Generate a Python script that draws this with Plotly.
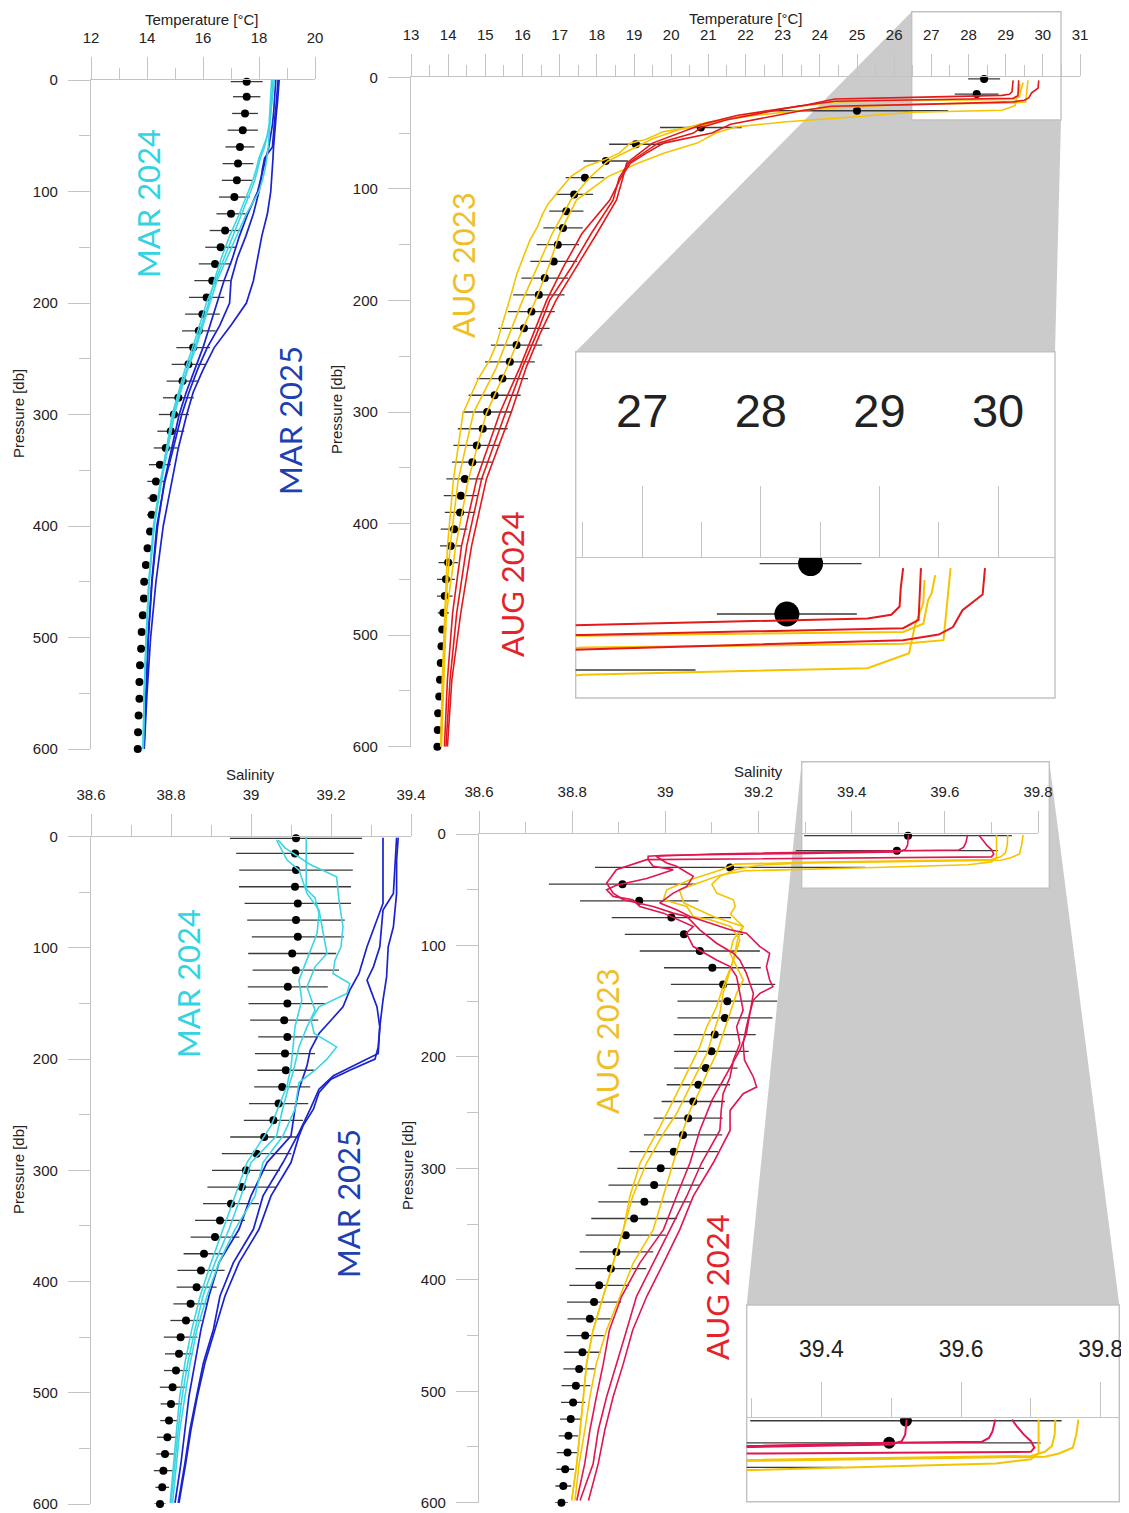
import plotly.graph_objects as go

W, H = 1129, 1513
OFF = 8  # the page body margin shifts the figure by 8 px

# ======================= DATA =======================
# climatology standard levels (dbar)
P_CLIM = [1.5, 15, 30, 45, 60, 75, 90, 105, 120, 135, 150, 165, 180, 195, 210, 225, 240, 255, 270, 285,
          300, 315, 330, 345, 360, 375, 390, 405, 420, 435, 450, 465, 480, 495, 510, 525, 540, 555, 570, 585, 600]

# ---- Panel A : temperature, March ----
CLIM_T_MAR = [17.56, 17.56, 17.50, 17.42, 17.32, 17.25, 17.21, 17.12, 17.0, 16.79, 16.63, 16.43, 16.33, 16.13,
              15.98, 15.85, 15.65, 15.48, 15.27, 15.12, 14.96, 14.85, 14.67, 14.46, 14.32, 14.23, 14.17, 14.11,
              14.02, 13.96, 13.90, 13.89, 13.85, 13.81, 13.79, 13.75, 13.73, 13.73, 13.70, 13.68, 13.67]
CLIM_T_MAR_SD = [0.57, 0.49, 0.46, 0.54, 0.52, 0.55, 0.54, 0.55, 0.52, 0.55, 0.55, 0.58, 0.64, 0.63, 0.62, 0.6,
                 0.6, 0.6, 0.57, 0.55, 0.54, 0.48, 0.43, 0.39, 0.31, 0.21, 0.17, 0.13, 0.1, 0.07, 0.06, 0.05,
                 0.05, 0.04, 0.04, 0.03, 0.03, 0.03, 0.03, 0.03, 0.03]
P_A = [0, 10, 20, 30, 40, 50, 60, 70, 80, 90, 100, 120, 140, 160, 180, 200, 220, 240, 260, 280, 300, 330, 360,
       400, 450, 500, 550, 600]
T_MAR24_1 = [18.55, 18.5, 18.46, 18.42, 18.38, 18.3, 18.2, 18.05, 17.95, 17.85, 17.7, 17.38, 17.05, 16.75, 16.45,
             16.12, 15.88, 15.63, 15.35, 15.12, 14.9, 14.7, 14.48, 14.23, 14.06, 13.97, 13.9, 13.86]
T_MAR24_2 = [18.5, 18.47, 18.44, 18.42, 18.4, 18.37, 18.33, 18.28, 18.22, 18.12, 18.0, 17.55, 17.2, 16.85, 16.5,
             16.25, 16.0, 15.75, 15.45, 15.2, 14.98, 14.75, 14.52, 14.26, 14.08, 13.98, 13.91, 13.87]
T_MAR24_3 = [18.45, 18.43, 18.41, 18.39, 18.36, 18.3, 18.15, 18.0, 17.9, 17.78, 17.62, 17.3, 16.95, 16.65, 16.4,
             16.2, 15.95, 15.7, 15.42, 15.16, 14.93, 14.72, 14.5, 14.25, 14.07, 13.97, 13.9, 13.86]
T_MAR25_1 = [18.72, 18.7, 18.66, 18.62, 18.58, 18.55, 18.52, 18.5, 18.48, 18.46, 18.42, 18.3, 18.1, 17.95, 17.8,
             17.55, 17.0, 16.4, 16.0, 15.65, 15.42, 15.12, 14.88, 14.58, 14.32, 14.13, 14.0, 13.9]
T_MAR25_2 = [18.68, 18.66, 18.62, 18.58, 18.55, 18.52, 18.48, 18.2, 18.12, 18.07, 18.0, 17.8, 17.53, 17.22, 17.0,
             16.95, 16.6, 16.15, 15.8, 15.5, 15.24, 14.94, 14.64, 14.35, 14.17, 14.04, 13.95, 13.88]
T_MAR25_3 = [18.6, 18.58, 18.55, 18.52, 18.48, 18.42, 18.35, 18.25, 18.15, 18.05, 17.95, 17.6, 17.3, 17.05, 16.75,
             16.5, 16.25, 16.0, 15.7, 15.4, 15.15, 14.88, 14.62, 14.38, 14.18, 14.05, 13.96, 13.89]

# ---- Panel B : temperature, August ----
CLIM_T_AUG = [28.42, 28.22, 25.0, 20.8, 19.05, 18.24, 17.68, 17.39, 17.18, 17.09, 16.95, 16.84, 16.6, 16.44,
              16.24, 16.04, 15.84, 15.66, 15.46, 15.25, 15.05, 14.93, 14.77, 14.65, 14.45, 14.34, 14.32, 14.16,
              14.07, 14.0, 13.94, 13.91, 13.87, 13.84, 13.82, 13.8, 13.78, 13.76, 13.73, 13.72, 13.71]
CLIM_T_AUG_SD = [0.43, 0.59, 2.45, 1.1, 0.72, 0.6, 0.52, 0.51, 0.46, 0.53, 0.57, 0.63, 0.63, 0.69, 0.63, 0.69,
                 0.69, 0.67, 0.69, 0.7, 0.66, 0.67, 0.63, 0.55, 0.5, 0.46, 0.41, 0.36, 0.29, 0.26, 0.24, 0.21,
                 0.15, 0.1, 0.08, 0.06, 0.05, 0.04, 0.03, 0.03, 0.03]
P_AUG23_1 = [5.9, 12, 18, 25.5, 29.5, 31.3, 33.8, 35.3, 39.8, 44.4, 50, 59, 68, 77, 89, 110, 140, 170, 200, 230,
             259, 301, 361, 421, 481, 541, 600]
T_AUG23_1 = [29.38, 29.37, 29.3, 29.25, 28.9, 26.5, 25.5, 25.0, 23.1, 21.75, 21.2, 20.7, 19.8, 19.1, 18.3, 17.45,
             17.0, 16.7, 16.35, 15.95, 15.6, 15.03, 14.54, 14.2, 13.95, 13.88, 13.82]
P_AUG23_2 = [4.6, 9.5, 11.3, 17.6, 19.8, 20.8, 22, 28, 36.8, 44, 48.7, 56, 59, 68, 74, 80, 89, 101, 113, 122,
             134, 146, 164, 176, 194, 209, 227, 239, 253, 271, 301, 361, 421, 481, 541, 600]
T_AUG23_2 = [29.47, 29.44, 29.41, 29.37, 29.2, 26.5, 24.4, 23.0, 21.6, 20.7, 19.8, 19.3, 18.9, 18.6, 18.2, 17.7,
             17.3, 17.0, 16.7, 16.55, 16.4, 16.2, 16.0, 15.85, 15.7, 15.57, 15.4, 15.3, 15.12, 14.8, 14.4, 14.14,
             13.98, 13.9, 13.84, 13.8]
P_AUG23_3 = [2.7, 9.5, 22, 23, 24, 28, 34, 40, 47, 55, 65, 75, 90, 110, 140, 170, 200, 230, 260, 301, 361, 421,
             481, 541, 600]
T_AUG23_3 = [29.6, 29.58, 29.54, 29.2, 26.5, 24.0, 22.3, 21.0, 20.2, 19.5, 18.9, 18.3, 17.8, 17.3, 16.8, 16.4,
             16.0, 15.65, 15.3, 14.68, 14.27, 14.05, 13.92, 13.86, 13.8]
P_AUG24_1 = [2.7, 8, 13, 15.2, 16.2, 18, 19.5, 25, 34, 41.5, 50, 59, 68, 77, 90, 110, 140, 170, 200, 230, 260,
             300, 360, 420, 480, 540, 600]
T_AUG24_1 = [29.2, 29.18, 29.17, 29.1, 28.9, 26.5, 24.4, 23.6, 21.8, 20.9, 20.2, 19.5, 19.15, 18.8, 18.7, 18.53,
             18.0, 17.45, 16.9, 16.47, 16.1, 15.7, 15.03, 14.63, 14.34, 14.1, 13.98]
P_AUG24_2 = [2.7, 10, 16.6, 18.8, 20.6, 21.5, 26, 32, 38, 45, 50, 59, 68, 77, 90, 110, 140, 170, 200, 230, 260,
             300, 360, 420, 480, 540, 600]
T_AUG24_2 = [29.35, 29.34, 29.33, 29.2, 26.5, 24.4, 23.4, 22.4, 21.5, 20.8, 20.6, 19.65, 19.25, 18.85, 18.6,
             18.44, 17.85, 17.32, 16.73, 16.38, 16.0, 15.55, 14.9, 14.5, 14.23, 14.05, 13.94]
P_AUG24_3 = [2.7, 9.8, 14, 18.5, 20.5, 22, 24.5, 26, 30, 36, 42, 50, 59, 68, 77, 90, 110, 140, 170, 200, 230, 260,
             300, 360, 420, 480, 540, 600]
T_AUG24_3 = [29.89, 29.87, 29.7, 29.62, 29.5, 29.2, 26.5, 24.3, 23.5, 22.5, 21.6, 21.1, 19.8, 19.33, 18.9, 18.65,
             18.35, 17.6, 17.1, 16.65, 16.3, 15.93, 15.4, 14.77, 14.36, 14.12, 13.98, 13.9]

# ---- Panel C : salinity, March ----
CLIM_S_MAR = [39.1125, 39.11, 39.1125, 39.11, 39.117, 39.1125, 39.117, 39.103, 39.112, 39.092, 39.091, 39.083,
              39.091, 39.085, 39.087, 39.078, 39.069, 39.056, 39.033, 39.014, 38.9875, 38.977, 38.95, 38.9225,
              38.91, 38.8825, 38.875, 38.864, 38.849, 38.8375, 38.824, 38.82, 38.8125, 38.804, 38.8, 38.795,
              38.791, 38.785, 38.781, 38.778, 38.7725]
CLIM_S_MAR_SD = [0.165, 0.147, 0.142, 0.14, 0.133, 0.122, 0.115, 0.11, 0.108, 0.1, 0.097, 0.085, 0.073, 0.075,
                 0.071, 0.07, 0.074, 0.074, 0.085, 0.087, 0.085, 0.086, 0.07, 0.0625, 0.061, 0.051, 0.059, 0.05,
                 0.043, 0.039, 0.042, 0.035, 0.03, 0.032, 0.026, 0.022, 0.026, 0.022, 0.024, 0.017, 0.014]
P_SMAR24_1 = [3, 10, 25, 36, 57, 81, 99, 111, 123, 132, 141, 153, 165, 177, 189, 200, 210, 221, 245, 269, 293,
              323, 353, 383, 413, 443, 473, 503, 533, 563, 599]
S_MAR24_1 = [39.068, 39.085, 39.148, 39.214, 39.22, 39.23, 39.225, 39.21, 39.205, 39.247, 39.24, 39.17, 39.15,
             39.158, 39.214, 39.19, 39.16, 39.12, 39.11, 39.08, 39.03, 39.01, 38.96, 38.92, 38.89, 38.865, 38.848,
             38.835, 38.822, 38.814, 38.804]
P_SMAR24_2 = [3, 21, 30, 51, 66, 87, 105, 117, 135, 156, 171, 189, 212, 230, 248, 269, 293, 323, 353, 383, 413,
              443, 473, 503, 533, 563, 599]
S_MAR24_2 = [39.064, 39.09, 39.12, 39.14, 39.17, 39.18, 39.19, 39.16, 39.14, 39.16, 39.14, 39.12, 39.105, 39.09,
             39.077, 39.064, 39.0, 38.975, 38.945, 38.91, 38.88, 38.86, 38.842, 38.828, 38.818, 38.81, 38.8]
P_SMAR24_3 = [0, 47, 55, 69, 87, 111, 129, 147, 171, 186, 207, 224, 242, 260, 293, 323, 353, 383, 413, 443, 473,
              503, 533, 563, 599]
S_MAR24_3 = [39.138, 39.138, 39.16, 39.17, 39.165, 39.14, 39.12, 39.127, 39.11, 39.106, 39.1, 39.09, 39.07, 39.05,
             38.99, 38.96, 38.93, 38.9, 38.873, 38.852, 38.835, 38.822, 38.814, 38.806, 38.798]
P_SMAR25_1 = [1, 21, 51, 81, 99, 126, 147, 171, 189, 200, 210, 218, 230, 245, 260, 269, 293, 323, 353, 383, 413,
              443, 473, 503, 533, 563, 599]
S_MAR25_1 = [39.368, 39.364, 39.364, 39.356, 39.343, 39.339, 39.33, 39.322, 39.318, 39.31, 39.247, 39.2, 39.17,
             39.156, 39.13, 39.12, 39.1, 39.05, 39.02, 38.97, 38.935, 38.91, 38.885, 38.866, 38.85, 38.837, 38.82]
P_SMAR25_2 = [1, 51, 66, 99, 117, 129, 153, 171, 195, 206, 215, 227, 245, 266, 293, 323, 353, 383, 413, 443, 473,
              503, 533, 563, 599]
S_MAR25_2 = [39.364, 39.356, 39.33, 39.322, 39.306, 39.29, 39.315, 39.322, 39.318, 39.256, 39.206, 39.17, 39.148,
             39.12, 39.08, 39.03, 39.006, 38.956, 38.9225, 38.906, 38.881, 38.864, 38.8475, 38.835, 38.818]
P_SMAR25_3 = [1, 30, 60, 99, 123, 138, 153, 165, 177, 192, 206, 227, 245, 269, 293, 323, 353, 383, 413, 443, 473,
              503, 533, 563, 599]
S_MAR25_3 = [39.33, 39.33, 39.33, 39.29, 39.27, 39.247, 39.23, 39.2, 39.17, 39.148, 39.14, 39.12, 39.11, 39.1,
             39.04, 39.0, 38.97, 38.92, 38.895, 38.875, 38.86, 38.845, 38.835, 38.825, 38.81]

# ---- Panel D : salinity, August ----
CLIM_S_AUG = [39.521, 39.497, 39.139, 38.908, 38.944, 39.013, 39.04, 39.074, 39.101, 39.124, 39.133, 39.128,
              39.106, 39.099, 39.087, 39.071, 39.06, 39.049, 39.038, 39.018, 38.99, 38.976, 38.955, 38.933,
              38.915, 38.895, 38.883, 38.858, 38.847, 38.838, 38.828, 38.822, 38.815, 38.808, 38.802, 38.797,
              38.792, 38.79, 38.785, 38.781, 38.777]
CLIM_S_AUG_SD = [0.223, 0.217, 0.29, 0.158, 0.127, 0.128, 0.127, 0.129, 0.104, 0.112, 0.107, 0.102, 0.088, 0.08,
                 0.068, 0.068, 0.068, 0.074, 0.084, 0.095, 0.093, 0.098, 0.099, 0.092, 0.086, 0.079, 0.076, 0.064,
                 0.058, 0.048, 0.04, 0.039, 0.034, 0.031, 0.026, 0.023, 0.021, 0.023, 0.019, 0.017, 0.014]
P_SAUG23_1 = [0.8, 10, 21.5, 25, 27.6, 30, 31.7, 33, 37, 41, 50, 62, 74, 80, 83, 95, 107, 119, 131, 143, 161, 179,
              197, 215, 230, 248, 266, 295, 325, 355, 385, 415, 445, 475, 505, 535, 565, 598]
S_AUG23_1 = [39.711, 39.711, 39.711, 39.70, 39.65, 39.45, 39.3, 39.17, 39.117, 39.089, 39.03, 39.04, 39.103,
             39.146, 39.167, 39.146, 39.139, 39.153, 39.167, 39.153, 39.139, 39.124, 39.11, 39.089, 39.074, 39.053,
             39.038, 39.017, 38.996, 38.974, 38.931, 38.903, 38.874, 38.852, 38.838, 38.827, 38.815, 38.806]
P_SAUG23_2 = [0.8, 10, 17, 20.5, 23, 24.5, 25.5, 27, 32, 41, 50, 59, 65, 74, 77, 83, 95, 113, 128, 143, 161, 179,
              197, 215, 233, 251, 266, 295, 325, 355, 385, 415, 445, 475, 505, 535, 565, 598]
S_AUG23_2 = [39.735, 39.734, 39.73, 39.72, 39.7, 39.45, 39.3, 39.15, 39.12, 39.053, 39.003, 38.996, 39.046, 39.06,
             39.096, 39.14, 39.16, 39.146, 39.135, 39.124, 39.117, 39.103, 39.089, 39.067, 39.046, 39.024, 39.0,
             38.96, 38.93, 38.91, 38.888, 38.867, 38.845, 38.831, 38.824, 38.817, 38.81, 38.799]
P_SAUG23_3 = [0.8, 10, 18, 21.5, 23.5, 25, 26, 28, 32, 38, 45, 53, 59, 65, 72, 83, 95, 113, 137, 155, 173, 191,
              209, 227, 245, 263, 295, 325, 355, 385, 415, 445, 475, 505, 535, 565, 598]
S_AUG23_3 = [39.768, 39.765, 39.76, 39.74, 39.72, 39.45, 39.3, 39.2, 39.15, 39.117, 39.1, 39.11, 39.146, 39.15,
             39.14, 39.167, 39.155, 39.146, 39.124, 39.11, 39.089, 39.074, 39.053, 39.031, 39.01, 38.988, 38.946,
             38.924, 38.91, 38.888, 38.867, 38.845, 38.831, 38.824, 38.817, 38.81, 38.799]
P_SAUG24_1 = [0.8, 10, 14, 16, 17.5, 19, 20, 23, 29, 32, 40, 46, 50, 56, 59, 65, 71, 77, 83, 89, 101, 113, 119,
              128, 143, 158, 173, 188, 203, 218, 233, 248, 266, 295, 325, 355, 385, 415, 445, 475, 505, 535, 565, 598]
S_AUG24_1 = [39.522, 39.52, 39.515, 39.5, 39.3, 39.0, 38.963, 38.963, 38.974, 39.017, 38.96, 38.895, 38.874,
             38.888, 38.93, 38.945, 38.996, 39.03, 39.06, 39.045, 39.06, 39.11, 39.139, 39.153, 39.16, 39.167,
             39.153, 39.16, 39.146, 39.139, 39.124, 39.12, 39.117, 39.078, 39.046, 39.01, 38.974, 38.938, 38.917,
             38.895, 38.874, 38.856, 38.845, 38.817]
P_SAUG24_2 = [0.8, 8, 12, 14.3, 15, 16.4, 18, 20, 26, 29, 38, 47, 53, 62, 68, 74, 80, 86, 89, 95, 101, 107, 119,
              131, 137, 143, 149, 161, 173, 188, 203, 218, 227, 233, 248, 266, 295, 325, 355, 385, 415, 445, 475,
              505, 535, 565, 598]
S_AUG24_2 = [39.649, 39.645, 39.64, 39.63, 39.5, 39.3, 39.1, 38.98, 39.003, 39.024, 39.06, 39.046, 39.017, 38.988,
             39.024, 39.053, 39.096, 39.139, 39.174, 39.189, 39.203, 39.224, 39.217, 39.224, 39.231, 39.203, 39.189,
             39.181, 39.174, 39.167, 39.17, 39.189, 39.196, 39.167, 39.139, 39.139, 39.103, 39.06, 39.031, 38.996,
             38.96, 38.93, 38.91, 38.888, 38.87, 38.856, 38.835]
P_SAUG24_3 = [0.8, 5, 10, 14, 18, 20.5, 21.5, 23, 32, 44, 53, 59, 65, 71, 74, 86, 98, 107, 113, 125, 143, 161,
              179, 194, 209, 224, 239, 266, 295, 325, 355, 385, 415, 445, 475, 505, 535, 565, 598]
S_AUG24_3 = [39.673, 39.68, 39.69, 39.70, 39.705, 39.70, 39.3, 38.96, 38.895, 38.874, 38.888, 38.91, 38.974,
             39.017, 39.046, 39.074, 39.11, 39.146, 39.16, 39.174, 39.189, 39.181, 39.174, 39.16, 39.14, 39.12,
             39.1, 39.074, 39.053, 39.024, 38.996, 38.945, 38.906, 38.88, 38.867, 38.852, 38.838, 38.827, 38.81]

# ======================= STYLE / LAYOUT =======================
C_CYAN = '#3dd5e3'
C_BLUE = '#1b22cf'
C_GOLD = '#f5c400'
C_RED = '#e3191c'
C_CRIM = '#df1650'
AXC = '#c4c4c4'
TXT = 'Liberation Sans, Arial, sans-serif'

FW, FH = W - OFF, H - OFF


def fx(px):
    return (px - OFF) / FW


def fy(py):
    return 1 - (py - OFF) / FH


def xax(x0, x1, anchor, rng, tick0, dtick, mdtick, tlen=22, mlen=11, fs=15, standoff=8):
    return dict(domain=[fx(x0), fx(x1)], anchor=anchor, range=rng, side='top', showline=True,
                linecolor=AXC, linewidth=1.3, ticks='outside', ticklen=tlen, tickwidth=1.3, tickcolor=AXC,
                tick0=tick0, dtick=dtick, tickfont=dict(family=TXT, size=fs, color='#222'),
                showgrid=False, zeroline=False, ticklabelstandoff=standoff, fixedrange=True, automargin=False,
                ticklabeloverflow='allow',
                minor=dict(ticks='outside', tick0=tick0, dtick=mdtick, ticklen=mlen, tickwidth=1.3,
                           tickcolor=AXC, showgrid=False))


def yax(y0, y1, anchor, rng=(600, 0)):
    return dict(domain=[fy(y1), fy(y0)], anchor=anchor, range=list(rng), showline=True, linecolor=AXC,
                linewidth=1.3, ticks='outside', ticklen=22, tickwidth=1.3, tickcolor=AXC, tick0=0, dtick=100,
                tickfont=dict(family=TXT, size=15, color='#222'), showgrid=False, zeroline=False,
                ticklabelstandoff=7, fixedrange=True, automargin=False, ticklabeloverflow='allow',
                minor=dict(ticks='outside', tick0=0, dtick=50, ticklen=11, tickwidth=1.3, tickcolor=AXC,
                           showgrid=False))


fig = go.Figure()


def add_dots(x, err, axes):
    for xa, ya, ms, cl in axes:
        fig.add_trace(go.Scatter(x=x, y=P_CLIM, mode='markers', xaxis=xa, yaxis=ya,
                                 marker=dict(color='black', size=ms),
                                 error_x=dict(type='data', array=err, color='#3a3a3a', thickness=1.3, width=0),
                                 cliponaxis=cl, hoverinfo='skip', showlegend=False))


def add_line(x, y, color, axes):
    for xa, ya, w in axes:
        fig.add_trace(go.Scatter(x=x, y=y, mode='lines', xaxis=xa, yaxis=ya,
                                 line=dict(color=color, width=w), hoverinfo='skip', showlegend=False))


# Panel A
add_dots(CLIM_T_MAR, CLIM_T_MAR_SD, [('x', 'y', 8, False)])
for t in (T_MAR25_1, T_MAR25_2, T_MAR25_3):
    add_line(t, P_A, C_BLUE, [('x', 'y', 1.7)])
for t in (T_MAR24_1, T_MAR24_2, T_MAR24_3):
    add_line(t, P_A, C_CYAN, [('x', 'y', 1.6)])

# Panel B (+ inset)
AX_B = [('x2', 'y2', 1.6), ('x5', 'y5', 2.0)]
add_dots(CLIM_T_AUG, CLIM_T_AUG_SD, [('x2', 'y2', 8, False), ('x5', 'y5', 25, True)])
for t, p in ((T_AUG23_1, P_AUG23_1), (T_AUG23_2, P_AUG23_2), (T_AUG23_3, P_AUG23_3)):
    add_line(t, p, C_GOLD, AX_B)
for t, p in ((T_AUG24_1, P_AUG24_1), (T_AUG24_2, P_AUG24_2), (T_AUG24_3, P_AUG24_3)):
    add_line(t, p, C_RED, AX_B)

# Panel C
add_dots(CLIM_S_MAR, CLIM_S_MAR_SD, [('x3', 'y3', 8, False)])
for s, p in ((S_MAR25_1, P_SMAR25_1), (S_MAR25_2, P_SMAR25_2), (S_MAR25_3, P_SMAR25_3)):
    add_line(s, p, C_BLUE, [('x3', 'y3', 1.7)])
for s, p in ((S_MAR24_1, P_SMAR24_1), (S_MAR24_2, P_SMAR24_2), (S_MAR24_3, P_SMAR24_3)):
    add_line(s, p, C_CYAN, [('x3', 'y3', 1.6)])

# Panel D (+ inset)
AX_D = [('x4', 'y4', 1.6), ('x6', 'y6', 2.0)]
add_dots(CLIM_S_AUG, CLIM_S_AUG_SD, [('x4', 'y4', 8, False), ('x6', 'y6', 12, True)])
for s, p in ((S_AUG23_1, P_SAUG23_1), (S_AUG23_2, P_SAUG23_2), (S_AUG23_3, P_SAUG23_3)):
    add_line(s, p, C_GOLD, AX_D)
for s, p in ((S_AUG24_1, P_SAUG24_1), (S_AUG24_2, P_SAUG24_2), (S_AUG24_3, P_SAUG24_3)):
    add_line(s, p, C_CRIM, AX_D)


def pth(points):
    s = 'M ' + ' L '.join(f'{fx(a):.5f},{fy(b):.5f}' for a, b in points) + ' Z'
    return s


def rect(x0, y0, x1, y1):
    return dict(type='rect', xref='paper', yref='paper', x0=fx(x0), x1=fx(x1), y0=fy(y1), y1=fy(y0),
                fillcolor='white', line=dict(color='#c2c2c2', width=1.4), layer='below')


GRAY = '#cbcbcb'
shapes = [
    dict(type='path', xref='paper', yref='paper', layer='below', fillcolor=GRAY, line=dict(width=0),
         path=pth([(911.7, 11.7), (1061, 11.7), (1061, 120), (1055, 351.7), (575.7, 351.7)])),
    rect(911.7, 11.7, 1061, 120),
    rect(575.7, 351.7, 1055, 698),
    dict(type='path', xref='paper', yref='paper', layer='below', fillcolor=GRAY, line=dict(width=0),
         path=pth([(801.7, 761.7), (1049.3, 761.7), (1119.3, 1305), (746.7, 1305)])),
    rect(801.7, 761.7, 1049.3, 888.3),
    rect(746.7, 1305, 1119.3, 1501.7),
]


def ann(text, px, py, size=15, color='#222', angle=0, family=TXT):
    return dict(text=text, x=fx(px), y=fy(py), xref='paper', yref='paper', showarrow=False,
                font=dict(size=size, color=color, family=family), textangle=angle,
                xanchor='center', yanchor='middle')


LBL = 'Lato, Calibri, sans-serif'
annotations = [
    ann('Temperature [°C]', 202, 19), ann('Temperature [°C]', 746, 18),
    ann('Salinity', 250, 774), ann('Salinity', 758, 771),
    ann('Pressure [db]', 18, 414, angle=-90), ann('Pressure [db]', 337, 410, angle=-90),
    ann('Pressure [db]', 18, 1170, angle=-90), ann('Pressure [db]', 407, 1166, angle=-90),
    ann('MAR 2024', 148, 204, 31, '#35d2e2', -90, LBL), ann('MAR 2025', 290, 421, 31, '#2040b0', -90, LBL),
    ann('AUG 2023', 463, 265, 31, '#f0bf25', -90, LBL), ann('AUG 2024', 512, 584, 31, '#e5232a', -90, LBL),
    ann('MAR 2024', 188, 984, 31, '#35d2e2', -90, LBL), ann('MAR 2025', 348, 1204, 31, '#2040b0', -90, LBL),
    ann('AUG 2023', 607, 1041, 31, '#f0bf25', -90, LBL), ann('AUG 2024', 717, 1287, 31, '#e5232a', -90, LBL),
]

fig.update_layout(
    width=FW, height=FH, autosize=False, margin=dict(l=0, r=0, t=0, b=0, pad=0),
    paper_bgcolor='white', plot_bgcolor='rgba(0,0,0,0)', showlegend=False,
    xaxis=xax(91, 315, 'y', [12, 20], 12, 2, 1),
    yaxis=yax(80, 749, 'x'),
    xaxis2=xax(411, 1080, 'y2', [13, 31], 13, 1, 0.5),
    yaxis2=yax(77.3, 746.7, 'x2'),
    xaxis3=xax(91, 411, 'y3', [38.6, 39.4], 38.6, 0.2, 0.1),
    yaxis3=yax(836.7, 1504, 'x3'),
    xaxis4=xax(479, 1038, 'y4', [38.6, 39.8], 38.6, 0.2, 0.1),
    yaxis4=yax(834, 1502.7, 'x4'),
    xaxis5=xax(575.7, 1055, 'y5', [26.44, 30.48], 27, 1, 0.5, tlen=71, mlen=35, fs=47, standoff=40),
    yaxis5=dict(domain=[fy(698), fy(558)], anchor='x5', range=[37.5, 0], visible=False, fixedrange=True,
                automargin=False),
    xaxis6=xax(746.7, 1119.3, 'y6', [39.293, 39.8266], 39.4, 0.2, 0.1, tlen=35, mlen=19, fs=23, standoff=16),
    yaxis6=dict(domain=[fy(1501.7), fy(1418.3)], anchor='x6', range=[51, 0], visible=False, fixedrange=True,
                automargin=False),
    shapes=shapes, annotations=annotations,
)

fig.write_html("out.html", config={'displayModeBar': False})
